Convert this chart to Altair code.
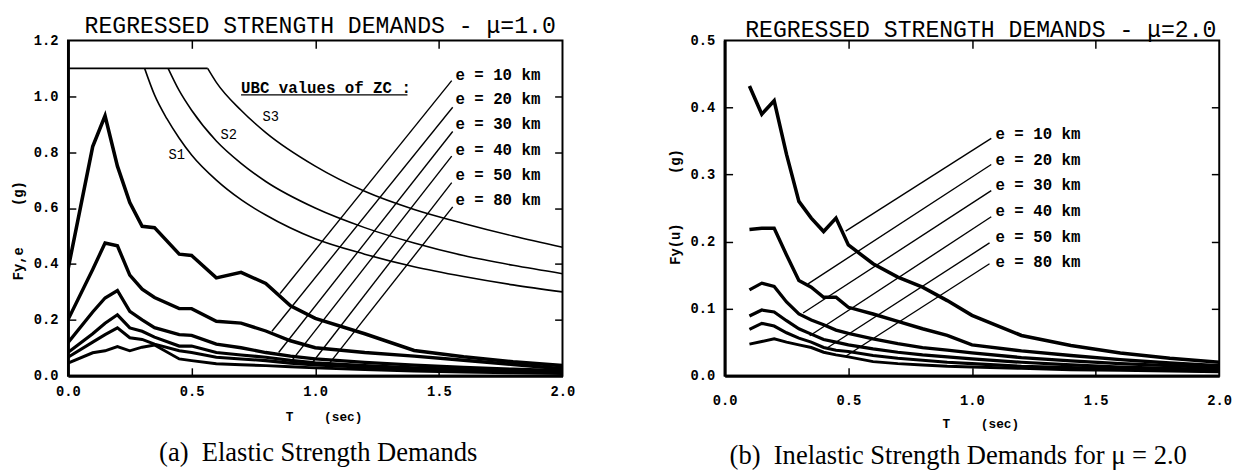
import altair as alt
import pandas as pd

MONO = "Liberation Mono"
SERIF = "Liberation Serif"
NB = "\u00a0"

# ---------------- shared ----------------
E_KEYS = ["e10", "e20", "e30", "e40", "e50", "e80"]
E_TEXT = ["e = 10 km", "e = 20 km", "e = 30 km", "e = 40 km", "e = 50 km", "e = 80 km"]
E_WIDTH = [3.6, 3.0, 2.5, 2.0, 1.6, 1.2]
X_TICKS = [0.0, 0.5, 1.0, 1.5, 2.0]

# ---------------- panel (a): elastic ----------------
A_T = [0, 0.1, 0.15, 0.2, 0.25, 0.3, 0.35, 0.45, 0.5, 0.6, 0.7, 0.8, 0.9, 1.0, 1.2, 1.4, 1.6, 1.8, 2.0]
A_E10 = [0.38, 0.82, 0.93, 0.75, 0.62, 0.535, 0.53, 0.435, 0.43, 0.35, 0.37, 0.33, 0.25, 0.205, 0.15, 0.09, 0.068, 0.05, 0.036]
A_E20 = [0.20, 0.38, 0.475, 0.465, 0.36, 0.31, 0.28, 0.24, 0.24, 0.195, 0.188, 0.16, 0.125, 0.10, 0.083, 0.07, 0.055, 0.04, 0.025]
A_E30 = [0.118, 0.228, 0.278, 0.305, 0.23, 0.20, 0.172, 0.147, 0.144, 0.113, 0.10, 0.083, 0.07, 0.06, 0.048, 0.038, 0.03, 0.023, 0.018]
A_E40 = [0.083, 0.15, 0.188, 0.218, 0.171, 0.159, 0.138, 0.106, 0.106, 0.083, 0.074, 0.066, 0.055, 0.046, 0.036, 0.028, 0.022, 0.017, 0.013]
A_E50 = [0.066, 0.12, 0.147, 0.171, 0.136, 0.13, 0.113, 0.089, 0.083, 0.066, 0.06, 0.054, 0.045, 0.038, 0.03, 0.023, 0.018, 0.014, 0.011]
A_E80 = [0.045, 0.082, 0.089, 0.104, 0.089, 0.102, 0.11, 0.06, 0.054, 0.043, 0.039, 0.036, 0.032, 0.028, 0.022, 0.017, 0.013, 0.01, 0.008]
A_Y_TICKS = [0.0, 0.2, 0.4, 0.6, 0.8, 1.0, 1.2]

# UBC design curves (values of ZC)
UBC_FLAT_T = [0.0, 0.565]
UBC_FLAT_V = [1.1, 1.1]
S1_T = [0.31, 0.35, 0.4, 0.45, 0.5, 0.6, 0.7, 0.8, 1.0, 1.2, 1.4, 1.6, 1.8, 2.0]
S1_V = [1.1, 1.005, 0.92, 0.85, 0.79, 0.70, 0.63, 0.575, 0.49, 0.435, 0.39, 0.355, 0.325, 0.30]
S2_T = [0.405, 0.45, 0.5, 0.6, 0.7, 0.8, 1.0, 1.2, 1.4, 1.6, 1.8, 2.0]
S2_V = [1.1, 1.02, 0.95, 0.84, 0.76, 0.695, 0.60, 0.53, 0.475, 0.43, 0.395, 0.365]
S3_T = [0.565, 0.6, 0.7, 0.8, 1.0, 1.2, 1.4, 1.6, 1.8, 2.0]
S3_V = [1.1, 1.05, 0.95, 0.87, 0.75, 0.66, 0.595, 0.545, 0.50, 0.46]
S_LABELS = ["S1", "S2", "S3"]
S_LABEL_T = [0.44, 0.65, 0.82]
S_LABEL_V = [0.79, 0.86, 0.926]
UBC_TEXT = "UBC values of ZC :"
UBC_TEXT_T = 0.70
UBC_TEXT_V = 1.03
UBC_LINE_T = [0.70, 1.373]
UBC_LINE_V = 1.005

# leader lines for e labels, panel (a)
A_L_T0 = [0.858, 0.825, 0.852, 0.905, 0.984, 1.05]
A_L_V0 = [0.294, 0.159, 0.083, 0.054, 0.042, 0.036]
A_L_T1 = [1.552, 1.556, 1.556, 1.552, 1.552, 1.556]
A_L_V1 = [1.056, 0.961, 0.874, 0.786, 0.691, 0.604]
A_LAB_T = 1.567
A_LAB_V = [1.077, 0.989, 0.902, 0.807, 0.719, 0.628]

# ---------------- panel (b): inelastic, mu = 2 ----------------
B_T = [0.1, 0.15, 0.2, 0.25, 0.3, 0.35, 0.4, 0.45, 0.5, 0.6, 0.7, 0.8, 0.9, 1.0, 1.2, 1.4, 1.6, 1.8, 2.0]
B_E10 = [0.432, 0.39, 0.41, 0.33, 0.26, 0.235, 0.215, 0.235, 0.195, 0.167, 0.147, 0.132, 0.112, 0.09, 0.06, 0.045, 0.034, 0.026, 0.02]
B_E20 = [0.218, 0.22, 0.22, 0.18, 0.142, 0.132, 0.117, 0.117, 0.102, 0.092, 0.081, 0.07, 0.06, 0.046, 0.037, 0.03, 0.024, 0.019, 0.015]
B_E30 = [0.128, 0.138, 0.133, 0.11, 0.092, 0.083, 0.076, 0.068, 0.063, 0.055, 0.048, 0.042, 0.038, 0.034, 0.027, 0.022, 0.018, 0.015, 0.012]
B_E40 = [0.089, 0.098, 0.095, 0.082, 0.07, 0.062, 0.054, 0.05, 0.046, 0.04, 0.035, 0.031, 0.028, 0.025, 0.02, 0.016, 0.013, 0.011, 0.009]
B_E50 = [0.069, 0.078, 0.074, 0.064, 0.056, 0.05, 0.042, 0.038, 0.036, 0.03, 0.026, 0.023, 0.02, 0.018, 0.014, 0.012, 0.01, 0.008, 0.007]
B_E80 = [0.047, 0.051, 0.055, 0.05, 0.046, 0.042, 0.035, 0.031, 0.028, 0.021, 0.018, 0.016, 0.014, 0.013, 0.011, 0.009, 0.008, 0.007, 0.006]
B_Y_TICKS = [0.0, 0.1, 0.2, 0.3, 0.4, 0.5]

B_L_T0 = [0.489, 0.337, 0.317, 0.344, 0.417, 0.489]
B_L_V0 = [0.2155, 0.137, 0.0935, 0.0595, 0.042, 0.029]
B_L_T1 = [1.078, 1.078, 1.078, 1.078, 1.071, 1.071]
B_L_V1 = [0.354, 0.315, 0.276, 0.237, 0.198, 0.167]
B_LAB_T = 1.095
B_LAB_V = [0.36, 0.321, 0.284, 0.246, 0.206, 0.169]


def curves_df(T, series):
    rows = []
    for key, vals in zip(E_KEYS, series):
        for t, v in zip(T, vals):
            rows.append({"e": key, "T": t, "v": v})
    return pd.DataFrame(rows)


def lead_df(t0, v0, t1, v1):
    return pd.DataFrame({"t0": t0, "v0": v0, "t1": t1, "v1": v1})


def labels_df(t, vs):
    return pd.DataFrame({"t": [t] * len(vs), "v": vs, "label": E_TEXT})


def tick_axis(orient, vals, **kw):
    return alt.Axis(orient=orient, values=vals, offset=-8, tickSize=8, ticks=True,
                    tickWidth=1.5, tickColor="black", labels=False, domain=False,
                    grid=False, **kw)


def build_panel(T, series, ydom, yticks, ytitle, ytitle_y, xlabpad, xtitlepad,
                leads, labs, caption, caption_pad, caption_x, header, extra):
    xs = alt.Scale(domain=[0, 2], nice=False, zero=False)
    ys = alt.Scale(domain=ydom, nice=False, zero=False)
    inner = yticks[1:-1]

    ax_x = alt.Axis(orient="bottom", values=X_TICKS, format=".1f", labelFlush=False,
                    ticks=False, tickSize=0, labelPadding=xlabpad, domain=True,
                    domainWidth=3, domainColor="black", grid=False,
                    labelFont=MONO, labelFontSize=14, labelFontWeight="bold",
                    labelColor="black",
                    title="T" + NB * 4 + "(sec)", titleFont=MONO, titleFontSize=13,
                    titleFontWeight="bold", titleColor="black",
                    titlePadding=xtitlepad, titleX=260)
    ax_y = alt.Axis(orient="left", values=yticks, format=".1f", ticks=False, tickSize=0,
                    labelPadding=10, domain=True, domainWidth=3, domainColor="black",
                    grid=False, labelFont=MONO, labelFontSize=14, labelFontWeight="bold",
                    labelColor="black",
                    title=ytitle, titleFont=MONO, titleFontSize=14, titleFontWeight="bold",
                    titleColor="black", titlePadding=8, titleY=ytitle_y)

    curves = alt.Chart(curves_df(T, series)).mark_line(color="black", clip=True).encode(
        x=alt.X("T:Q", scale=xs, axis=ax_x),
        y=alt.Y("v:Q", scale=ys, axis=ax_y),
        strokeWidth=alt.StrokeWidth("e:N", scale=alt.Scale(domain=E_KEYS, range=E_WIDTH),
                                    legend=None),
    )
    lead = alt.Chart(leads).mark_rule(color="black", strokeWidth=1.4).encode(
        x=alt.X("t0:Q", scale=xs,
                axis=tick_axis("bottom", [0.5, 1.0, 1.5], title=caption, titleFont=SERIF,
                               titleFontSize=27, titleFontWeight="normal",
                               titleColor="black", titlePadding=caption_pad,
                               titleX=caption_x)),
        x2="t1:Q",
        y=alt.Y("v0:Q", scale=ys, axis=tick_axis("left", inner, title=None)),
        y2="v1:Q",
    )
    lab = alt.Chart(labs).mark_text(align="left", baseline="middle", font=MONO, fontSize=16,
                                    fontWeight="bold", color="black").encode(
        x=alt.X("t:Q", scale=xs, axis=tick_axis("top", [0.5, 1.0, 1.5], title=None)),
        y=alt.Y("v:Q", scale=ys, axis=tick_axis("right", inner, title=None)),
        text="label:N",
    )
    layers = [curves, lead, lab] + [e(xs, ys) for e in extra]
    return alt.layer(*layers).resolve_axis(x="independent", y="independent").properties(
        width=503, height=341, title=header)


def ubc_lines(xs, ys):
    rows = [{"s": "flat", "T": t, "v": v} for t, v in zip(UBC_FLAT_T, UBC_FLAT_V)]
    for name, TT, VV in (("S1", S1_T, S1_V), ("S2", S2_T, S2_V), ("S3", S3_T, S3_V)):
        rows += [{"s": name, "T": t, "v": v} for t, v in zip(TT, VV)]
    return alt.Chart(pd.DataFrame(rows)).mark_line(
        color="black", strokeWidth=1.6, interpolate="monotone").encode(
        x=alt.X("T:Q", scale=xs, axis=None),
        y=alt.Y("v:Q", scale=ys, axis=None),
        detail="s:N",
    )


def ubc_labels(xs, ys):
    df = pd.DataFrame({"t": S_LABEL_T, "v": S_LABEL_V, "label": S_LABELS})
    return alt.Chart(df).mark_text(align="center", baseline="middle", font=MONO,
                                   fontSize=14, color="black").encode(
        x=alt.X("t:Q", scale=xs, axis=None),
        y=alt.Y("v:Q", scale=ys, axis=None),
        text="label:N",
    )


def ubc_title(xs, ys):
    df = pd.DataFrame({"t": [UBC_TEXT_T], "v": [UBC_TEXT_V], "label": [UBC_TEXT]})
    return alt.Chart(df).mark_text(align="left", baseline="middle", font=MONO,
                                   fontSize=16, fontWeight="bold", color="black").encode(
        x=alt.X("t:Q", scale=xs, axis=None),
        y=alt.Y("v:Q", scale=ys, axis=None),
        text="label:N",
    )


def ubc_underline(xs, ys):
    df = pd.DataFrame({"t0": [UBC_LINE_T[0]], "t1": [UBC_LINE_T[1]], "v": [UBC_LINE_V]})
    return alt.Chart(df).mark_rule(color="black", strokeWidth=1.2).encode(
        x=alt.X("t0:Q", scale=xs, axis=None),
        x2="t1:Q",
        y=alt.Y("v:Q", scale=ys, axis=None),
    )


left = build_panel(
    A_T, [A_E10, A_E20, A_E30, A_E40, A_E50, A_E80], [0, 1.2], A_Y_TICKS,
    "Fy,e" + NB * 5 + "(g)", 193, 9, 13,
    lead_df(A_L_T0, A_L_V0, A_L_T1, A_L_V1), labels_df(A_LAB_T, A_LAB_V),
    "(a)" + NB * 2 + "Elastic Strength Demands", 65, 254,
    alt.TitleParams(text="REGRESSED STRENGTH DEMANDS - μ=1.0", font=MONO, fontSize=23.5,
                    fontWeight="normal", color="black", anchor="middle", frame="group",
                    offset=-4, dx=5),
    [ubc_lines, ubc_labels, ubc_title, ubc_underline],
)

right = build_panel(
    B_T, [B_E10, B_E20, B_E30, B_E40, B_E50, B_E80], [0, 0.5], B_Y_TICKS,
    "Fy(u)" + NB * 6 + "(g)", 169, 18, 11,
    lead_df(B_L_T0, B_L_V0, B_L_T1, B_L_V1), labels_df(B_LAB_T, B_LAB_V),
    "(b)" + NB * 2 + "Inelastic Strength Demands for μ = 2.0", 68, 237,
    alt.TitleParams(text="REGRESSED STRENGTH DEMANDS - μ=2.0", font=MONO, fontSize=23.5,
                    fontWeight="normal", color="black", anchor="middle", frame="group",
                    offset=-8, dx=9),
    [],
)

chart = alt.hconcat(left, right, spacing=92).properties(
    padding={"left": 2, "top": 1, "right": 0, "bottom": 0},
    background="white",
).configure_view(stroke="black", strokeWidth=2)

chart.save("out.html", embed_options={"renderer": "svg", "actions": False})
